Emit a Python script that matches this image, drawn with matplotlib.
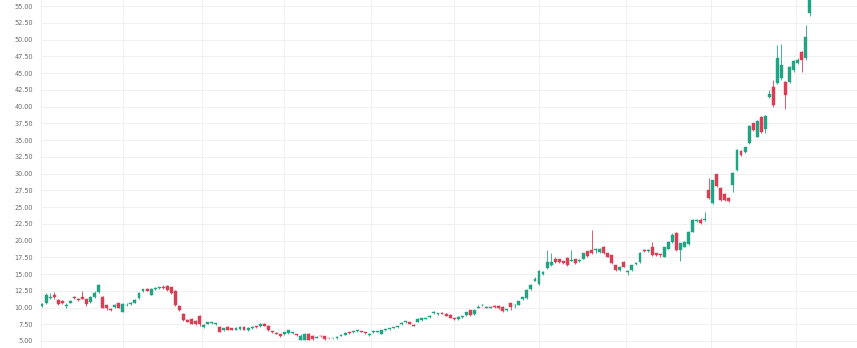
import matplotlib
matplotlib.use("Agg")
import matplotlib.pyplot as plt
import numpy as np

opens = [10.2, 10.6, 11.4, 11.9, 11.1, 10.9, 10.2, 10.7, 11.5, 11.3, 11.6, 11.2, 10.8, 11.5, 12.3, 11.6, 10.3, 9.8, 10.1, 10.6,
         9.4, 10.3, 10.5, 10.7, 11.4, 12.4, 12.7, 11.9, 12.7, 12.9, 13.0, 13.2, 13.0, 12.5, 10.2, 9.1, 8.1, 8.3, 8.0, 8.8,
         7.1, 7.6, 7.7, 7.5, 7.1, 6.6, 7.1, 6.9, 6.7, 6.8, 7.1, 6.6, 6.9, 7.15, 7.2, 7.6, 7.3, 6.4, 6.2, 6.0,
         6.0, 6.2, 6.2, 6.0, 5.2, 5.2, 6.1, 5.8, 5.5, 5.8, 5.7, 5.45, 5.4, 5.4, 5.75, 5.95, 6.3, 6.3, 6.45, 6.45,
         6.2, 5.95, 6.3, 6.35, 6.1, 6.6, 6.8, 6.95, 7.1, 7.5, 7.8, 7.8, 7.4, 7.9, 8.1, 8.35, 8.6, 9.2, 9.0, 9.2,
         9.1, 8.9, 8.4, 8.3, 8.6, 8.9, 9.6, 9.0, 10.0, 10.3, 9.95, 10.0, 10.2, 10.2, 10.1, 9.6, 10.6, 10.3, 10.4, 11.2,
         11.4, 12.7, 14.0, 13.5, 15.0, 15.85, 16.3, 17.3, 17.2, 16.9, 17.4, 17.0, 17.2, 16.9, 17.3, 18.4, 18.6, 18.6, 18.3, 19.1,
         18.1, 17.8, 16.3, 15.6, 16.8, 15.3, 15.6, 16.5, 16.8, 18.6, 18.4, 19.1, 18.1, 17.85, 17.6, 18.8, 19.8, 21.1, 18.6, 19.1,
         19.5, 21.3, 22.9, 23.1, 23.0, 27.5, 25.55, 29.9, 27.9, 27.0, 26.4, 28.3, 30.5, 33.4, 33.25, 34.5, 37.5, 35.5, 38.5, 36.6,
         41.4, 42.9, 43.5, 44.2, 43.7, 43.7, 45.4, 46.5, 48.2, 47.2, 53.9]
closes = [10.5, 11.8, 11.6, 11.5, 10.5, 10.7, 10.4, 10.9, 11.4, 11.1, 11.3, 10.5, 11.6, 12.2, 13.3, 10.0, 9.9, 9.7, 10.3, 10.0,
          10.5, 10.4, 10.7, 11.1, 12.2, 12.7, 12.5, 12.8, 12.9, 13.0, 12.95, 12.6, 12.1, 10.3, 9.6, 8.1, 7.9, 7.6, 7.5, 7.5,
          7.4, 7.8, 7.8, 7.6, 6.35, 6.9, 6.7, 6.7, 7.0, 7.1, 6.65, 7.0, 7.1, 7.1, 7.6, 7.3, 6.6, 6.3, 6.1, 5.7,
          6.3, 6.6, 6.25, 5.9, 5.7, 6.1, 5.2, 5.3, 5.6, 5.7, 5.3, 5.4, 5.45, 5.6, 5.95, 6.25, 6.2, 6.4, 6.5, 6.4,
          6.15, 6.0, 6.35, 6.4, 6.6, 6.65, 6.85, 7.0, 7.2, 7.7, 7.85, 7.6, 7.3, 8.3, 8.4, 8.4, 8.8, 9.3, 9.05, 9.1,
          8.8, 8.5, 8.3, 8.6, 8.7, 9.3, 8.9, 9.6, 10.1, 10.35, 10.1, 10.1, 10.1, 9.9, 9.5, 9.7, 10.1, 10.4, 10.9, 11.5,
          12.6, 13.4, 14.3, 15.4, 15.3, 16.8, 16.8, 16.8, 16.8, 16.6, 16.3, 17.1, 16.6, 17.0, 18.1, 17.7, 18.1, 18.7, 18.8, 18.1,
          17.6, 16.6, 15.6, 16.1, 16.1, 15.4, 16.3, 16.6, 18.2, 18.5, 18.6, 17.8, 17.8, 17.8, 19.0, 19.8, 20.8, 18.6, 19.6, 19.8,
          21.3, 23.1, 23.0, 22.6, 23.2, 26.3, 29.0, 28.1, 26.0, 26.0, 25.95, 30.1, 33.5, 32.8, 33.9, 37.1, 36.5, 37.9, 36.2, 38.6,
          41.8, 40.2, 47.2, 46.2, 41.7, 45.9, 46.8, 47.0, 46.9, 50.4, 56.5]
highs = [10.7, 12.1, 12.2, 12.3, 11.2, 11.1, 10.6, 11.1, 11.7, 11.4, 12.5, 11.3, 11.7, 12.4, 13.5, 11.7, 10.4, 9.9, 10.5, 10.7,
         10.6, 10.6, 10.8, 11.2, 12.3, 12.8, 12.9, 12.9, 13.0, 13.1, 13.3, 13.3, 13.1, 12.6, 10.3, 9.2, 8.3, 8.4, 8.1, 8.9,
         7.5, 7.9, 7.9, 7.7, 7.2, 7.0, 7.2, 7.0, 7.1, 7.2, 7.2, 7.1, 7.2, 7.3, 7.7, 7.7, 7.4, 6.5, 6.3, 6.1,
         6.4, 6.7, 6.4, 6.1, 6.0, 6.2, 6.2, 5.9, 5.7, 5.9, 5.8, 5.5, 5.5, 5.7, 6.0, 6.3, 6.4, 6.5, 6.6, 6.5,
         6.3, 6.2, 6.5, 6.5, 6.7, 6.7, 7.0, 7.1, 7.3, 7.9, 8.0, 7.9, 7.5, 8.4, 8.5, 8.5, 8.9, 9.5, 9.15, 9.3,
         9.2, 9.0, 8.5, 8.7, 8.8, 9.4, 9.7, 9.7, 10.3, 10.5, 10.2, 10.2, 10.3, 10.3, 10.2, 9.8, 10.7, 10.5, 11.0, 11.6,
         12.7, 13.5, 14.5, 15.6, 15.5, 18.6, 18.1, 17.5, 17.3, 17.0, 17.5, 18.6, 17.3, 17.2, 18.2, 18.5, 21.5, 18.9, 18.9, 19.2,
         18.2, 17.9, 16.4, 16.2, 16.9, 15.6, 16.4, 16.8, 18.3, 18.8, 18.8, 19.8, 18.2, 18.0, 19.1, 19.9, 21.1, 21.2, 19.7, 19.9,
         21.4, 23.2, 23.2, 23.3, 24.3, 29.4, 29.1, 30.0, 28.0, 27.1, 26.5, 30.2, 33.6, 33.5, 34.0, 37.2, 37.6, 38.0, 38.6, 38.7,
         42.5, 44.0, 49.2, 49.4, 43.8, 46.0, 46.9, 47.2, 48.3, 52.2, 57.0]
lows = [10.1, 10.5, 11.2, 11.3, 10.3, 10.5, 10.0, 10.6, 11.2, 11.0, 11.2, 10.2, 10.7, 11.4, 12.2, 9.9, 9.7, 9.5, 10.0, 9.9,
        9.3, 10.2, 10.4, 10.6, 11.3, 12.3, 12.4, 11.8, 12.6, 12.8, 12.8, 12.5, 12.0, 10.2, 9.5, 8.0, 7.8, 7.5, 7.4, 7.3,
        7.0, 7.5, 7.6, 7.4, 6.3, 6.5, 6.6, 6.6, 6.6, 6.7, 6.6, 6.5, 6.8, 7.0, 7.1, 7.2, 6.5, 6.2, 6.0, 5.6,
        5.9, 6.1, 6.1, 5.8, 5.1, 5.1, 5.1, 5.2, 5.4, 5.6, 5.2, 5.3, 5.3, 5.3, 5.7, 5.9, 6.1, 6.2, 6.4, 6.3,
        6.0, 5.8, 6.2, 6.3, 6.0, 6.5, 6.7, 6.9, 7.0, 7.4, 7.7, 7.5, 7.2, 7.8, 8.0, 8.3, 8.5, 9.1, 8.9, 9.0,
        8.7, 8.4, 8.2, 8.2, 8.5, 8.8, 8.8, 8.9, 9.9, 10.2, 9.9, 9.9, 10.0, 9.8, 9.4, 9.5, 9.6, 9.9, 10.3, 11.1,
        11.3, 12.6, 13.9, 13.4, 14.9, 15.7, 16.2, 16.7, 16.7, 16.5, 16.2, 16.9, 16.5, 16.8, 17.2, 17.6, 18.0, 18.2, 18.2, 18.0,
        17.5, 16.5, 15.4, 15.5, 16.0, 14.9, 15.5, 16.3, 16.7, 18.3, 18.3, 17.7, 17.7, 17.6, 17.5, 18.7, 19.7, 18.5, 17.0, 19.0,
        19.4, 21.2, 22.8, 22.5, 22.9, 26.2, 25.4, 28.0, 25.9, 25.9, 25.7, 27.3, 30.4, 32.6, 33.1, 34.4, 36.4, 35.4, 36.1, 36.0,
        41.2, 40.0, 43.3, 44.0, 39.7, 43.5, 45.2, 46.3, 45.2, 47.0, 53.5]

month_starts = [20, 39.5, 60, 81.5, 102, 123, 144.5, 165.5, 186.5]
y_ticks = [5.0 + 2.5 * k for k in range(21)]

UP = "#22a383"
DOWN = "#dc3d55"

fig = plt.figure(figsize=(8.57, 3.48), dpi=100)
ax = fig.add_axes([41 / 857, 0, 1 - 41 / 857, 1])

n = len(opens)
x = np.arange(n)
o = np.array(opens); c = np.array(closes); h = np.array(highs); l = np.array(lows)
up = c >= o
cols = np.where(up, UP, DOWN)

ax.vlines(x, l, h, colors=cols, linewidth=0.7, alpha=0.85, zorder=3)
bottoms = np.minimum(o, c)
heights = np.maximum(np.abs(c - o), 0.12)
ax.bar(x, heights, bottom=bottoms, width=0.72, color=cols, edgecolor=cols, linewidth=0.3, zorder=4)

ax.set_ylim(3.955, 55.9)
ax.set_xlim(-0.25, 201.7)
ax.set_yticks(y_ticks)
ax.set_yticklabels([f"{t:.2f}" for t in y_ticks])
ax.tick_params(axis="y", length=0, pad=6, labelsize=4.7, labelcolor="#6b6b6b")
ax.set_xticks(month_starts)
ax.tick_params(axis="x", length=0, labelbottom=False)
ax.grid(True, color="#f0f0f0", linewidth=0.7, zorder=0)
ax.set_axisbelow(True)
for s in ["top", "right", "bottom"]:
    ax.spines[s].set_visible(False)
ax.spines["left"].set_color("#eeeeee")
ax.spines["left"].set_linewidth(0.7)

fig.savefig("out.png", dpi=100, facecolor="white")
